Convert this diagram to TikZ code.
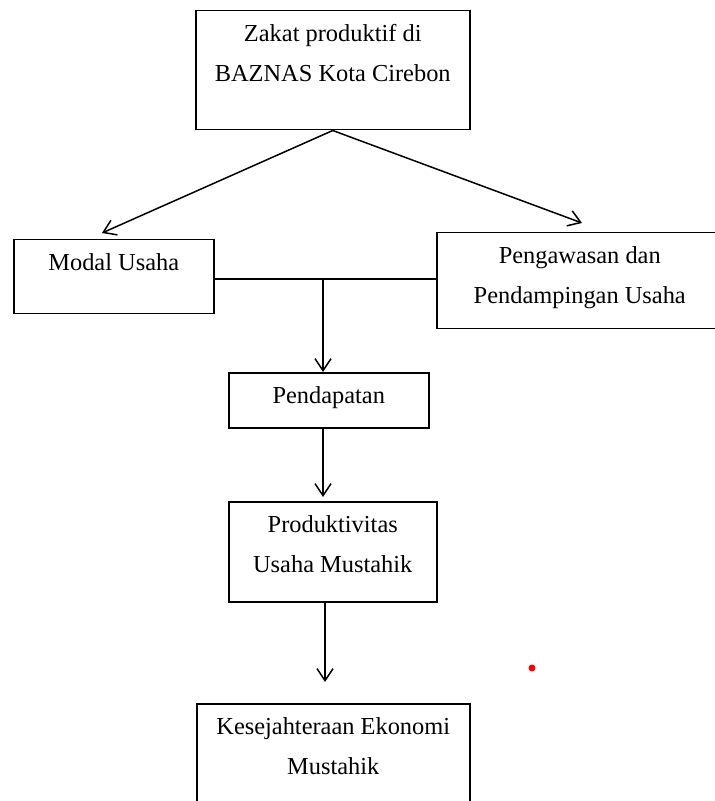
\documentclass[tikz,border=0pt]{standalone}
\usepackage{fontspec}
\setmainfont{Liberation Serif}
\usetikzlibrary{arrows.meta}

% text sits at the top of each box
\newcommand{\boxtext}[3]{\parbox[t][#2][t]{#1}{\centering\rule{0pt}{15.5pt}#3}}

\begin{document}
\begin{tikzpicture}[x=0.5pt,y=-0.5pt,
    box/.style={draw,line width=0.75pt,inner sep=0pt,anchor=north west,
      font=\fontsize{12.2}{20}\selectfont},
    link/.style={->,line width=0.75pt},
    >={Straight Barb[length=6pt,width=8pt]}]

  \useasboundingbox (0,0) rectangle (714,801);

  \node[box] (Zakat) at (195,10) {\boxtext{137pt}{59.5pt}{Zakat produktif di\\BAZNAS Kota Cirebon}};
  \node[box] (Modal Usaha) at (13,239) {\boxtext{100pt}{37pt}{Modal Usaha}};
  \node[box] (Pengawasan) at (436,232) {\boxtext{143pt}{48pt}{Pengawasan dan\\Pendampingan Usaha}};
  \node[box] (Pendapatan) at (228,372) {\boxtext{100pt}{27.5pt}{Pendapatan}};
  \node[box] (Produktivitas) at (228,501) {\boxtext{104pt}{50pt}{Produktivitas\\Usaha Mustahik}};
  \node[box] (Kesejahteraan) at (196,703) {\boxtext{136.5pt}{65pt}{Kesejahteraan Ekonomi\\Mustahik}};

  \coordinate (tip Modal) at (102,233);
  \coordinate (tip Pengawasan) at (582,223);
  \coordinate (split) at (323,279);
  \coordinate (tip Kesejahteraan) at (325,682);

  \draw[link] (Zakat.south) -- (tip Modal);
  \draw[link] (Zakat.south) -- (tip Pengawasan);
  \draw[line width=0.75pt] (Modal Usaha.east |- split) -- (Pengawasan.west |- split);
  \draw[link] (split) -- (split |- Pendapatan.north);
  \draw[link,shorten >=2pt] (split |- Pendapatan.south) -- (split |- Produktivitas.north);
  \draw[link] (tip Kesejahteraan |- Produktivitas.south) -- (tip Kesejahteraan);

  % stray red dot
  \fill[red] (532,668) circle (1.75pt);
\end{tikzpicture}
\end{document}
